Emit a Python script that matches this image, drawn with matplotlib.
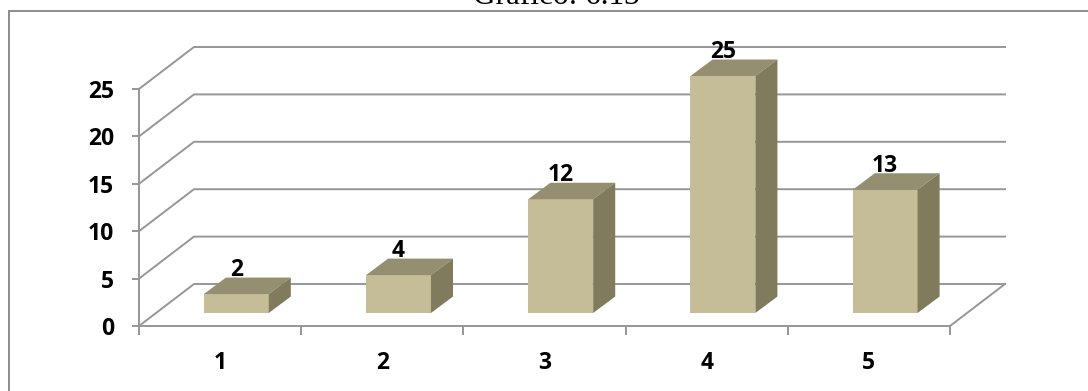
import matplotlib
matplotlib.use('Agg')
import matplotlib.pyplot as plt
from matplotlib.patches import Polygon, Rectangle

categories = ['1', '2', '3', '4', '5']
values = [2, 4, 12, 25, 13]
y_ticks = [0, 5, 10, 15, 20, 25]

grid_color = '#969696'
front_color = '#C4BD97'
top_color = '#948F70'
side_color = '#7F7B5C'
label_font = 'Open Sans'
line_w = 1.4

# depth of the fake 3d walls and the bars, in data units
wall_dx, wall_dy = 0.339, 4.43
bar_width = 0.40
bar_dx, bar_dy = 0.136, 1.74
floor_dx, floor_dy = 0.10, 1.37

fig = plt.figure(figsize=(10.88, 3.91), dpi=100)
ax = fig.add_axes([0, 0, 1, 1])
ax.patch.set_visible(False)

# y=0 at pixel 326, x=0 at pixel 139
ax.set_xlim(-139 / 162.2, (1088 - 139) / 162.2)
ax.set_ylim((326 - 391) / 9.48, 326 / 9.48)

# outer frame, runs off the right and bottom of the picture
ax.add_patch(Rectangle((8.5 / 1088, -0.1), 1.1, 1 - 10.5 / 391 + 0.1, transform=ax.transAxes,
                       fill=False, edgecolor='#8c8c8c', linewidth=line_w, clip_on=True))

# back wall gridlines and the diagonals on the side wall
for v in y_ticks:
    ax.plot([0, wall_dx, 5 + wall_dx], [v, v + wall_dy, v + wall_dy], color=grid_color, lw=line_w, zorder=1)
ax.plot([5, 5 + wall_dx], [0, wall_dy], color=grid_color, lw=line_w, zorder=1)

# bars
for i, v in enumerate(values):
    x0 = i + 0.5 + floor_dx - bar_width / 2
    x1 = x0 + bar_width
    y0 = floor_dy
    y1 = floor_dy + v
    ax.bar(x0, v, width=bar_width, bottom=y0, align='edge', color=front_color, linewidth=0, zorder=3)
    ax.add_patch(Polygon([(x0, y1), (x1, y1), (x1 + bar_dx, y1 + bar_dy), (x0 + bar_dx, y1 + bar_dy)],
                         closed=True, facecolor=top_color, edgecolor='none', zorder=3))
    ax.add_patch(Polygon([(x1, y0), (x1 + bar_dx, y0 + bar_dy), (x1 + bar_dx, y1 + bar_dy), (x1, y1)],
                         closed=True, facecolor=side_color, edgecolor='none', zorder=3))
    ax.text((x0 + x1) / 2, y1 + bar_dy - 0.5, str(v), ha='center', va='bottom', family=label_font,
            fontweight='bold', fontsize=16.5, color='black', zorder=4)

# axes
for s in ['top', 'right']:
    ax.spines[s].set_visible(False)
ax.spines['left'].set_position(('data', 0))
ax.spines['bottom'].set_position(('data', 0))
ax.spines['left'].set_bounds(0, 25)
ax.spines['bottom'].set_bounds(0, 5)
for s in ['left', 'bottom']:
    ax.spines[s].set_color(grid_color)
    ax.spines[s].set_linewidth(line_w)
    ax.spines[s].set_zorder(2)

ax.set_yticks(y_ticks)
ax.set_yticklabels([str(v) for v in y_ticks], family=label_font, fontweight='bold', fontsize=16.5)
ax.set_xticks(range(len(categories) + 1))
ax.set_xticklabels([])
ax.set_xticks([i + 0.5 for i in range(len(categories))], minor=True)
ax.set_xticklabels(categories, minor=True, family=label_font, fontweight='bold', fontsize=16.5)
ax.tick_params(axis='y', length=5, width=line_w, color=grid_color, pad=13)
ax.tick_params(axis='x', which='major', length=6.5, width=line_w, color=grid_color)
ax.tick_params(axis='x', which='minor', length=0, pad=18)

# title is cut off by the top of the picture
fig.text(556 / 1088, 1 - 4.5 / 391, 'Gráfico: 6.13', ha='center', va='baseline', family='Liberation Serif',
         fontsize=22.5, color='black')

fig.savefig('out.png', dpi=100)
